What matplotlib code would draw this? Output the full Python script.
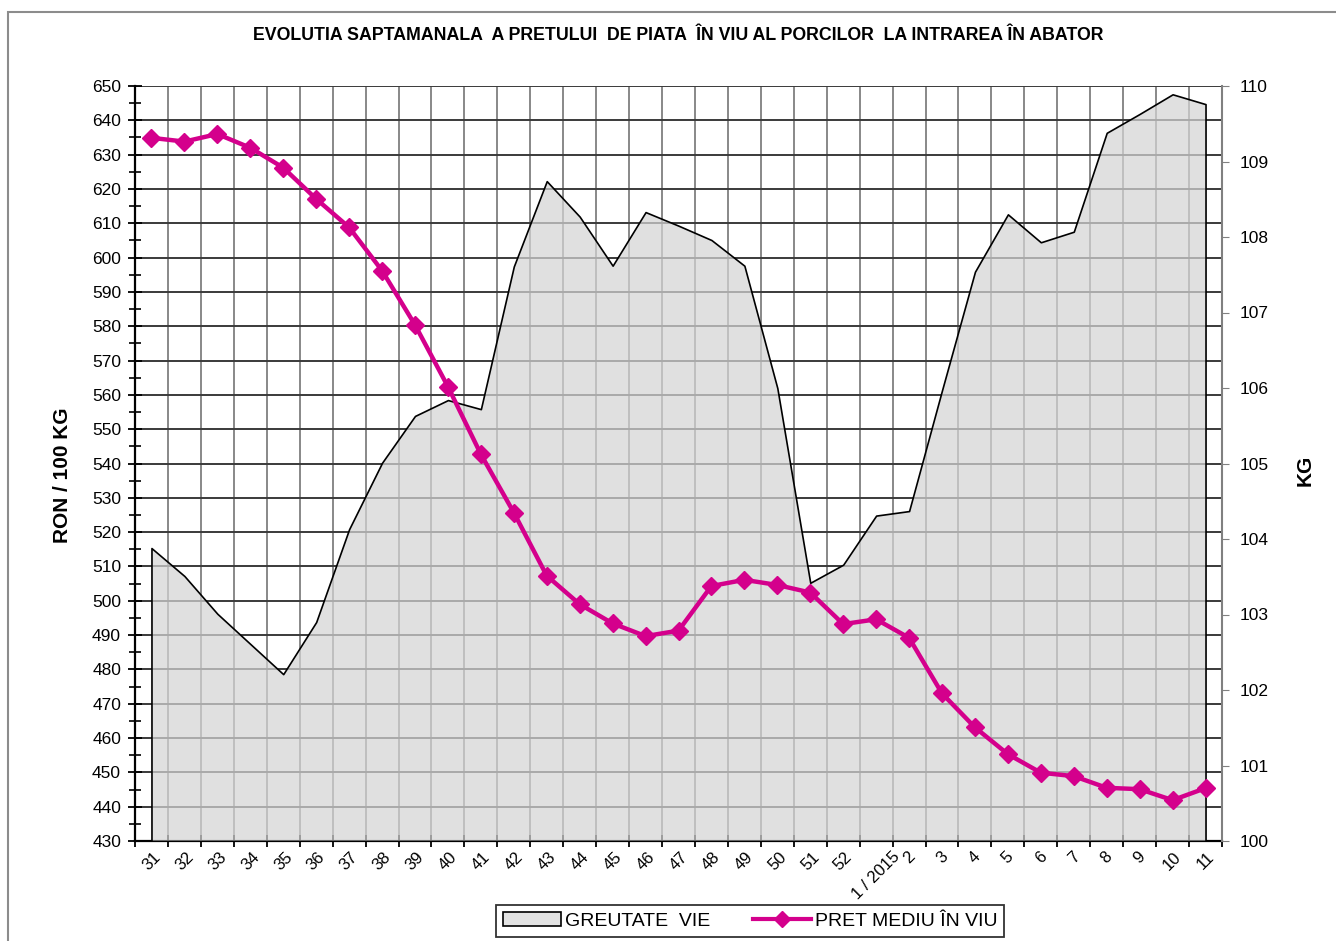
import matplotlib
matplotlib.use("Agg")
import matplotlib.pyplot as plt
import numpy as np
from matplotlib.patches import Patch, Rectangle
from matplotlib.lines import Line2D

plt.rcParams["font.family"] = ["Liberation Sans", "DejaVu Sans"]

# week labels (x categories)
weeks = ["31", "32", "33", "34", "35", "36", "37", "38", "39", "40", "41", "42",
         "43", "44", "45", "46", "47", "48", "49", "50", "51", "52", "1 / 2015",
         "2", "3", "4", "5", "6", "7", "8", "9", "10", "11"]

# average live price, RON / 100 KG (left axis)
pret_mediu = [634.9, 633.8, 636.0, 632.0, 626.2, 617.1, 608.8, 596.2, 580.4, 562.4,
              542.7, 525.7, 507.3, 499.0, 493.4, 489.7, 491.3, 504.3, 506.1, 504.6,
              502.4, 493.2, 494.6, 489.2, 473.0, 463.1, 455.3, 449.9, 448.9, 445.5,
              445.1, 441.9, 445.4]

# live weight, KG (right axis)
greutate_vie = [103.88, 103.51, 103.01, 102.61, 102.21, 102.90, 104.13, 105.01, 105.63,
                105.84, 105.72, 107.61, 108.74, 108.27, 107.62, 108.33, 108.15, 107.96,
                107.62, 106.00, 103.42, 103.66, 104.31, 104.37, 105.97, 107.54, 108.30,
                107.93, 108.07, 109.38, 109.63, 109.89, 109.76]

title = "EVOLUTIA SAPTAMANALA  A PRETULUI  DE PIATA  ÎN VIU AL PORCILOR  LA INTRAREA ÎN ABATOR"
pink = "#d4008c"

fig = plt.figure(figsize=(13.36, 9.41), dpi=100)
fig.patches.append(Rectangle((8 / 1336, -0.01), 1.1, 1 - 12 / 941 + 0.01,
                             transform=fig.transFigure, fill=False,
                             edgecolor="#8c8c8c", linewidth=1.5))

rect = [135 / 1336, 1 - 841 / 941, (1222 - 135) / 1336, 755 / 941]
ax = fig.add_axes(rect)
x = np.arange(len(weeks))

# primary axis: grid + left scale
ax.set_xlim(-0.5, len(weeks) - 0.5)
ax.set_ylim(430, 650)
ax.set_yticks(np.arange(430, 651, 10))
ax.set_yticks(np.arange(435, 650, 10), minor=True)
ax.set_xticks(np.arange(len(weeks) + 1) - 0.5)
ax.set_xticklabels([])
ax.set_xticks(x, minor=True)
ax.set_xticklabels(weeks, minor=True, rotation=45, ha="center", va="top", fontsize=12)
ax.tick_params(axis="x", which="major", direction="inout", length=9, width=1.3)
ax.tick_params(axis="x", which="minor", length=0, pad=6)
ax.tick_params(axis="y", which="major", direction="inout", length=10, width=1.3,
               labelsize=12.5, pad=5)
ax.tick_params(axis="y", which="minor", direction="inout", length=8, width=1.2)
ax.grid(axis="y", which="major", color="#3a3a3a", linewidth=1.4)
ax.grid(axis="x", which="major", color="#888888", linewidth=1.4)
ax.set_axisbelow(True)
for s in ["top", "right"]:
    ax.spines[s].set_visible(False)
ax.spines["left"].set_linewidth(1.6)
ax.spines["bottom"].set_linewidth(1.6)

# secondary axis: live weight area
ax2 = ax.twinx()
ax2.set_ylim(100, 110)
ax2.set_yticks(np.arange(100, 111, 1))
ax2.tick_params(axis="y", direction="out", length=5, color="#808080", labelsize=12.5, pad=8)
for s in ["top", "left", "bottom"]:
    ax2.spines[s].set_visible(False)
ax2.spines["right"].set_color("#808080")
ax2.spines["right"].set_linewidth(1.5)
ax2.fill_between(x, 100, greutate_vie, facecolor=(0.83, 0.83, 0.83, 0.72),
                 edgecolor="black", linewidth=1.2)

# third layer: price line over the area, same scale as left axis
ax3 = ax.twinx()
ax3.set_ylim(ax.get_ylim())
ax3.axis("off")
ax3.plot(x, pret_mediu, color=pink, linewidth=3.2, marker="D", markersize=9,
         clip_on=False)

fig.text(0.5075, 1 - 35 / 941, title, ha="center", va="center", fontsize=12.8,
         fontweight="bold")
fig.text(62 / 1336, 1 - 475 / 941, "RON / 100 KG", rotation=90, ha="center",
         va="center", fontsize=15, fontweight="bold")
fig.text(1305 / 1336, 1 - 470 / 941, "KG", rotation=90, ha="center", va="center",
         fontsize=15, fontweight="bold")

handles = [Patch(facecolor="#e2e2e2", edgecolor="black", linewidth=1.2),
           Line2D([], [], color=pink, linewidth=3, marker="D", markersize=8)]
leg = fig.legend(handles, ["GREUTATE  VIE", "PRET MEDIU ÎN VIU"], ncol=2,
                 loc="center", bbox_to_anchor=(750 / 1336, 1 - 921 / 941),
                 fontsize=14, frameon=True, fancybox=False, borderpad=0.35,
                 handlelength=3, handletextpad=0.2, columnspacing=2.2)
leg.get_frame().set_edgecolor("black")
leg.get_frame().set_linewidth(1.3)

fig.savefig("out.png", dpi=100)
